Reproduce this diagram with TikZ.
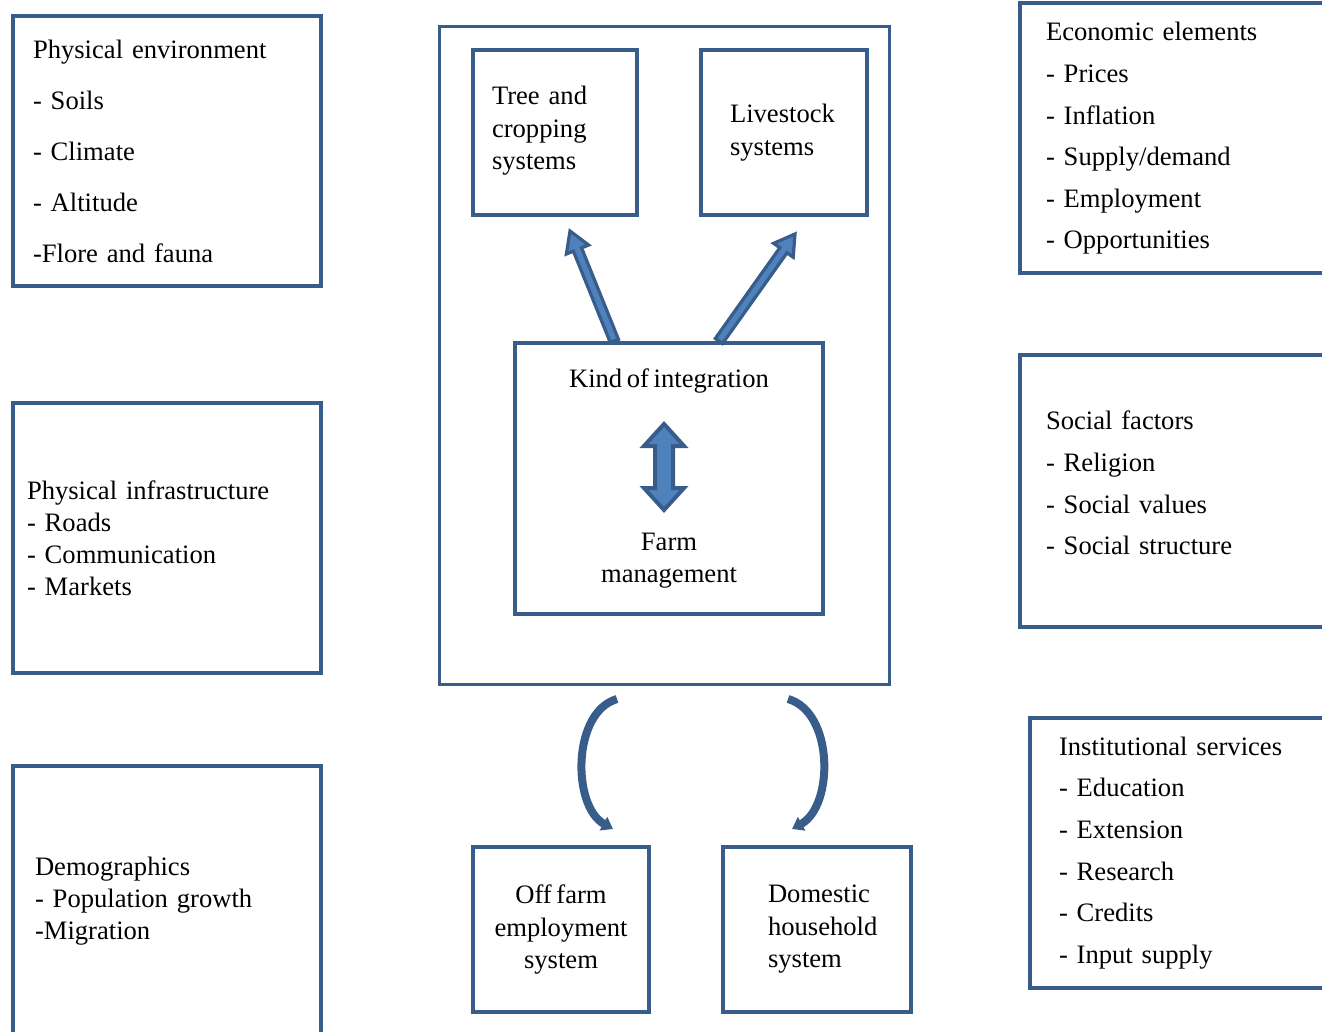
\documentclass[tikz,border=0pt]{standalone}
\usepackage{fontspec}
\setmainfont{Liberation Serif}[WordSpace=0.7]
\usetikzlibrary{calc,arrows.meta}

\definecolor{boxblue}{HTML}{385D8A}
\definecolor{arrowblue}{HTML}{4F81BD}

\tikzset{
  panel/.style={draw=boxblue, line width=2pt, align=left, minimum width=154pt,
    minimum height=135pt, font=\fontsize{13.3}{#1}\selectfont},
  smallbox/.style={draw=boxblue, line width=2pt, minimum height=82.5pt,
    font=\fontsize{13.3}{16.25}\selectfont},
  blockline/.style={draw=boxblue, fill=arrowblue, line width=1.6pt},
  loopline/.style={draw=boxblue, line width=4pt, -{Triangle[length=5.5pt,width=7.5pt]}}
}

% straight block arrow from #1 to #2
\newcommand{\blockarrow}[2]{%
  \coordinate (neck) at ($(#2)!10pt!(#1)$);
  \draw[blockline] ($(#1)!2.2pt!90:(#2)$) -- ($(neck)!2.2pt!-90:(#1)$)
    -- ($(neck)!6pt!-90:(#1)$) -- (#2) -- ($(neck)!6pt!90:(#1)$)
    -- ($(neck)!2.2pt!90:(#1)$) -- ($(#1)!2.2pt!-90:(#2)$) -- cycle;
}

\begin{document}
\begin{tikzpicture}[x=0.5pt,y=-0.5pt]
    \useasboundingbox (0,0) rectangle (1322,1032);
    \clip (0,0) rectangle (1322,1032);

    % left column
    \node[panel=25.5pt, inner xsep=10pt, text width=134pt] (env) at (167,151)
        {Physical environment\\- Soils\\- Climate\\- Altitude\\-Flore and fauna};
    \node[panel=16pt, inner xsep=7pt, text width=140pt] (infra) at (167,538)
        {Physical infrastructure\\- Roads\\- Communication\\- Markets};
    \node[panel=16pt, inner xsep=11pt, text width=132pt] (demo) at (167,901)
        {Demographics\\- Population growth\\-Migration};

    % right column
    \node[panel=20.8pt, inner xsep=13pt, text width=128pt] (econ) at (1174,138.5)
        {Economic elements\\- Prices\\- Inflation\\- Supply/demand\\- Employment\\- Opportunities};
    \node[panel=20.8pt, minimum height=136pt, inner xsep=13pt, text width=128pt] (social) at (1174,491)
        {Social factors\\- Religion\\- Social values\\- Social structure\\[-12.8pt]\mbox{}};
    \node[panel=20.8pt, inner xsep=14.5pt, text width=125pt] (inst) at (1184,853)
        {Institutional services\\- Education\\- Extension\\- Research\\- Credits\\- Input supply};

    % farm system
    \node[draw=boxblue, line width=1.5pt, minimum width=225pt, minimum height=328.5pt] (farm) at (664,355.5) {};
    \node[smallbox, align=left, minimum width=82pt, inner xsep=9.5pt, text width=63pt] (tree) at (555,132.5)
        {Tree and\\cropping\\systems\\[-12pt]\mbox{}};
    \node[smallbox, align=left, minimum width=83pt, inner xsep=14.5pt, text width=54pt] (stock) at (784,132.5)
        {Livestock\\systems};
    \node[panel=16pt, align=center, minimum height=135.5pt] (integ) at (669,478.5)
        {Kind of integration\hspace{6pt}\\[65.5pt]Farm\\management};

    \node[smallbox, align=center, minimum width=88pt] (offfarm) at (561,929.5)
        {Off farm\\employment\\system};
    \node[smallbox, align=left, minimum width=94pt, inner xsep=22.5pt, text width=49pt] (domestic) at (817,929.5)
        {Domestic\\household\\system};

    % arrows to the sub systems
    \coordinate (treefoot) at ($(integ.north west)!0.325!(integ.north east)$);
    \coordinate (stockfoot) at ($(integ.north west)!0.66!(integ.north east)$);
    \coordinate (treetip) at ([xshift=7.5pt,yshift=-7pt]tree.south);
    \coordinate (stocktip) at ([xshift=5.5pt,yshift=-8.5pt]stock.south);
    \blockarrow{treefoot}{treetip}
    \blockarrow{stockfoot}{stocktip}

    % two way arrow
    \draw[blockline, line width=2pt] (664,424) -- (684,446) -- (673,446) -- (673,488) -- (684,488)
        -- (664,510) -- (644,488) -- (655,488) -- (655,446) -- (644,446) -- cycle;

    % loops to the off farm and household systems
    \coordinate (offout) at (617,699);
    \coordinate (offin) at (613,829);
    \coordinate (homeout) at (788,699);
    \coordinate (homein) at (792,829);
    \draw[loopline] (offout) .. controls (572,712) and (572,806) .. (offin);
    \draw[loopline] (homeout) .. controls (834,712) and (834,806) .. (homein);
\end{tikzpicture}
\end{document}
